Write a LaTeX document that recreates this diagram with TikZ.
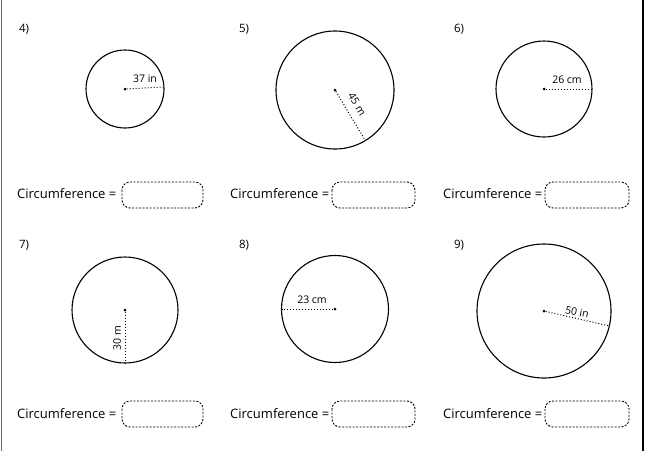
\documentclass[tikz,border=0pt]{standalone}
\usepackage{fontspec}
\setmainfont{Open Sans}
\begin{document}
\begin{tikzpicture}[x=1pt,y=-1pt,
  circ/.style={draw, line width=1.1pt},
  rad/.style={draw, dotted, line width=1pt},
  ctr/.style={circle, fill, inner sep=0pt, minimum size=3pt},
  num/.style={font=\fontsize{11.5}{12}\selectfont, inner sep=0pt},
  meas/.style={font=\fontsize{10.5}{11}\selectfont, inner sep=0.5pt},
  lbl/.style={font=\fontsize{13}{15}\selectfont, inner sep=0pt, anchor=west},
  ansbox/.style={draw, line width=0.9pt, dash pattern=on 2pt off 1.5pt, rounded corners=8pt}]
\useasboundingbox (0,0) rectangle (647,451);
\draw[line width=1.5pt, gray!80!black] (1.5,0) -- (1.5,451);
\draw[line width=1.2pt] (643,0) -- (643,451);

% 4
\node[num] (n4) at (24,29) {4)};
\node[ctr] (c4) at (125,89) {};
\draw[circ] (c4.center) circle (39);
\coordinate (e4) at (164,87);
\draw[rad] (c4) -- (e4);
\node[meas] (m4) at (145,79) {37 in};
\node[lbl] (t4) at (17,194) {Circumference =};
\draw[ansbox] (122,182) rectangle (203,208);

% 5
\node[num] (n5) at (244,29) {5)};
\node[ctr] (c5) at (335,90) {};
\draw[circ] (c5.center) circle (59);
\coordinate (e5) at (365,140);
\draw[rad] (c5) -- (e5);
\node[meas, rotate=-59] (m5) at (357,104) {45 m};
\node[lbl] (t5) at (230,194) {Circumference =};
\draw[ansbox] (332,182) rectangle (415,208);

% 6
\node[num] (n6) at (459,29) {6)};
\node[ctr] (c6) at (544,89) {};
\draw[circ] (c6.center) circle (48);
\coordinate (e6) at (592,89);
\draw[rad] (c6) -- (e6);
\node[meas] (m6) at (567,80) {26 cm};
\node[lbl] (t6) at (443,194) {Circumference =};
\draw[ansbox] (545,182) rectangle (629,208);

% 7
\node[num] (n7) at (24,245) {7)};
\node[ctr] (c7) at (125,310) {};
\draw[circ] (c7.center) circle (53);
\coordinate (e7) at (125,363);
\draw[rad] (c7) -- (e7);
\node[meas, rotate=90] (m7) at (117,338) {30 m};
\node[lbl] (t7) at (17,414) {Circumference =};
\draw[ansbox] (122,401) rectangle (203,427);

% 8
\node[num] (n8) at (244,245) {8)};
\node[ctr] (c8) at (335,309) {};
\draw[circ] (c8.center) circle (53.5);
\coordinate (e8) at (281.5,309);
\draw[rad] (c8) -- (e8);
\node[meas] (m8) at (312,300) {23 cm};
\node[lbl] (t8) at (230,414) {Circumference =};
\draw[ansbox] (332,401) rectangle (415,427);

% 9
\node[num] (n9) at (459,245) {9)};
\node[ctr] (c9) at (544,311) {};
\draw[circ] (c9.center) circle (67);
\coordinate (e9) at (609.5,326);
\draw[rad] (c9) -- (e9);
\node[meas, rotate=-12.8] (m9) at (577,312) {50 in};
\node[lbl] (t9) at (443,414) {Circumference =};
\draw[ansbox] (545,401) rectangle (629,427);
\end{tikzpicture}
\end{document}
